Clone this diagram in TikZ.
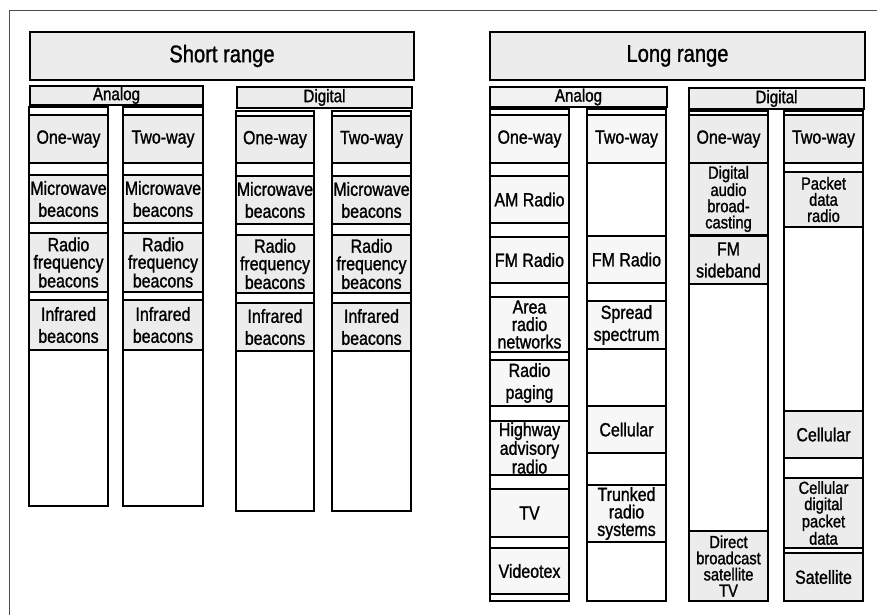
\documentclass[tikz,border=0pt]{standalone}
\usepackage{fontspec}
\setmainfont{Liberation Sans}[FakeStretch=0.84, FakeBold=1.2]

\tikzset{
  colbox/.style={draw, line width=1.5pt, fill=white, inner sep=0pt},
  cellbase/.style={draw, line width=1.5pt, inner sep=0pt, align=center, font=\fontsize{19}{22}\selectfont},
  shade/.style={cellbase, fill=gray!15},
  pale/.style={cellbase, fill=gray!6},
  tight/.style={font=\fontsize{19}{17.5}\selectfont},
  tighter/.style={font=\fontsize{17.5}{16.2}\selectfont},
  titlebox/.style={draw, line width=1.5pt, fill=gray!15, inner sep=0pt, font=\fontsize{24}{28}\selectfont},
  headerbox/.style={draw, line width=1.5pt, fill=gray!15, inner sep=0pt, font=\fontsize{18}{20}\selectfont},
  frameline/.style={draw=gray!60!black, line width=1.2pt},
}

% name, x1, y1, x2, y2, style, text
\newcommand{\cellbox}[7]{%
  \node[#6, minimum width={(#4)-(#2)}, minimum height={(#5)-(#3)}] (#1)
    at ({((#2)+(#4))/2},{((#3)+(#5))/2}) {#7};}

\begin{document}
\begin{tikzpicture}[x=1pt, y=-1pt]
\useasboundingbox (0,0) rectangle (877,615);
\coordinate (frTR) at (877,10.5);
\coordinate (frBL) at (9.5,615);
\draw[frameline] (frTR) -| (frBL);

% ---------------- Short range ----------------
\cellbox{short}{30}{32}{414}{80}{titlebox}{Short range}
\cellbox{shA}{30}{86}{203}{105}{headerbox}{Analog}
\cellbox{shD}{237}{87}{412}{108}{headerbox}{Digital}

\cellbox{sa1}{29}{107}{108}{506}{colbox}{}
\cellbox{sa2}{123}{107}{203}{506}{colbox}{}
\cellbox{sd1}{236}{111}{314}{511}{colbox}{}
\cellbox{sd2}{332}{111}{411}{511}{colbox}{}

\cellbox{sa1a}{29}{115}{108}{163}{shade}{One-way}
\cellbox{sa1b}{29}{175}{108}{223}{shade}{Microwave\\beacons}
\cellbox{sa1c}{29}{233}{108}{292}{shade,tight}{Radio\\frequency\\beacons}
\cellbox{sa1d}{29}{300}{108}{350}{shade}{Infrared\\beacons}

\cellbox{sa2a}{123}{115}{203}{163}{shade}{Two-way}
\cellbox{sa2b}{123}{175}{203}{223}{shade}{Microwave\\beacons}
\cellbox{sa2c}{123}{233}{203}{292}{shade,tight}{Radio\\frequency\\beacons}
\cellbox{sa2d}{123}{300}{203}{350}{shade}{Infrared\\beacons}

\cellbox{sd1a}{236}{116}{314}{163}{shade}{One-way}
\cellbox{sd1b}{236}{176}{314}{224}{shade}{Microwave\\beacons}
\cellbox{sd1c}{236}{235}{314}{293}{shade,tight}{Radio\\frequency\\beacons}
\cellbox{sd1d}{236}{303}{314}{351}{shade}{Infrared\\beacons}

\cellbox{sd2a}{332}{116}{411}{163}{shade}{Two-way}
\cellbox{sd2b}{332}{176}{411}{224}{shade}{Microwave\\beacons}
\cellbox{sd2c}{332}{235}{411}{293}{shade,tight}{Radio\\frequency\\beacons}
\cellbox{sd2d}{332}{303}{411}{351}{shade}{Infrared\\beacons}

% ---------------- Long range ----------------
\cellbox{long}{490}{32}{865}{80}{titlebox}{Long range}
\cellbox{loA}{490}{87}{667}{107}{headerbox,fill=gray!10}{Analog}
\cellbox{loD}{689}{88}{864}{109}{headerbox}{Digital}

\cellbox{la1}{490}{109}{569}{601}{colbox}{}
\cellbox{la2}{587}{109}{666}{601}{colbox}{}
\cellbox{ld1}{689}{111}{768}{601}{colbox}{}
\cellbox{ld2}{784}{111}{863}{601}{colbox}{}

\cellbox{la1a}{490}{115}{569}{163}{pale}{One-way}
\cellbox{la1b}{490}{176}{569}{223}{pale}{AM Radio}
\cellbox{la1c}{490}{237}{569}{283}{pale}{FM Radio}
\cellbox{la1d}{490}{297}{569}{352}{pale,tight}{Area\\radio\\networks}
\cellbox{la1e}{490}{360}{569}{406}{pale}{Radio\\paging}
\cellbox{la1f}{490}{421}{569}{475}{pale,tight}{Highway\\advisory\\radio}
\cellbox{la1g}{490}{489}{569}{537}{pale}{TV}
\cellbox{la1h}{490}{548}{569}{594}{pale}{Videotex}

\cellbox{la2a}{587}{115}{666}{163}{pale}{Two-way}
\cellbox{la2b}{587}{236}{666}{283}{pale}{FM Radio}
\cellbox{la2c}{587}{301}{666}{349}{pale}{Spread\\spectrum}
\cellbox{la2d}{587}{406}{666}{453}{pale}{Cellular}
\cellbox{la2e}{587}{485}{666}{542}{pale,tight}{Trunked\\radio\\systems}

\cellbox{ld1a}{689}{115}{768}{163}{shade}{One-way}
\cellbox{ld1b}{689}{163}{768}{235}{shade,tighter}{Digital\\audio\\broad-\\casting}
\cellbox{ld1c}{689}{236}{768}{284}{shade}{FM\\sideband}
\cellbox{ld1d}{689}{531}{768}{601}{shade,tighter}{Direct\\broadcast\\satellite\\TV}

\cellbox{ld2a}{784}{115}{863}{163}{shade}{Two-way}
\cellbox{ld2b}{784}{172}{863}{227}{shade,tighter}{Packet\\data\\radio}
\cellbox{ld2c}{784}{411}{863}{458}{shade}{Cellular}
\cellbox{ld2d}{784}{478}{863}{548}{shade,tighter}{Cellular\\digital\\packet\\data}
\cellbox{ld2e}{784}{553}{863}{601}{shade}{Satellite}
\end{tikzpicture}
\end{document}
